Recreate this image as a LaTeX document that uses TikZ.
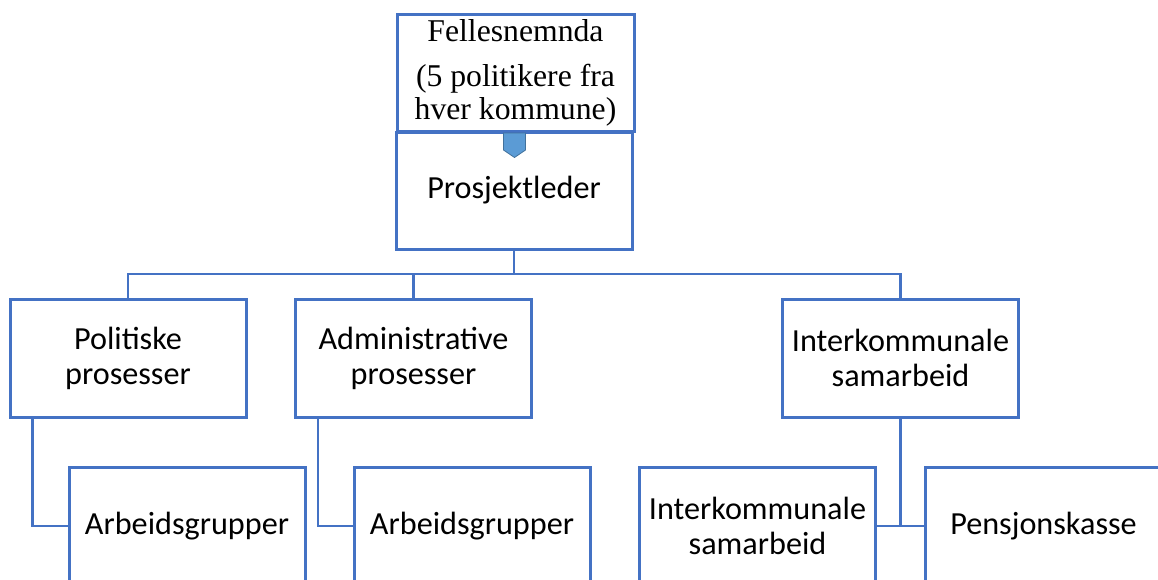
\documentclass[tikz,border=0pt]{standalone}
\usepackage{fontspec}
\setmainfont{Carlito}
\newfontfamily\serifface{Liberation Serif}
\definecolor{boxblue}{HTML}{4472C4}
\definecolor{markfill}{HTML}{5B9BD5}
\definecolor{markedge}{HTML}{41719C}
\begin{document}
\begin{tikzpicture}[x=1pt, y=-1pt,
  unit/.style={draw=boxblue, line width=3pt, fill=white, rectangle,
    minimum width=236pt, minimum height=117pt, inner sep=0pt,
    align=center, font=\fontsize{32.2}{35}\selectfont},
  link/.style={draw=boxblue, line width=2.6pt}]
\clip (0,0) rectangle (1158,579);
\fill[white] (0,0) rectangle (1158,579);

% boxes of the organisation chart
\node[unit, minimum width=237pt, font=\serifface\fontsize{31.7}{33}\selectfont]
  (fell) at (515.5,72.5) {Fellesnemnda\\[12pt](5 politikere fra\\hver kommune)};
\node[unit] (proj) at (514,190.5) {Prosjektleder};
\node[unit, minimum height=118pt] (pol) at (128,358) {Politiske\\prosesser};
\node[unit, minimum height=118pt] (adm) at (413.5,358) {Administrative\\prosesser};
\node[unit, minimum height=118pt] (ik1) at (900.5,358) {Interkommunale\\samarbeid};
\node[unit, minimum height=118pt] (ag1) at (187,526) {Arbeidsgrupper};
\node[unit, minimum height=118pt] (ag2) at (472,526) {Arbeidsgrupper};
\node[unit, minimum height=118pt] (ik2) at (757.5,526) {Interkommunale\\samarbeid};
\node[unit, minimum height=118pt] (pk) at (1043.5,526) {Pensjonskasse};

% tree lines
\coordinate (bus) at (514,274);
\draw[link] (proj.south) -- (bus);
\draw[link] (pol.north) |- (bus);
\draw[link] (adm.north) |- (bus);
\draw[link] (ik1.north) |- (bus);
\draw[link] ([xshift=24pt]pol.south west) |- (ag1.west);
\draw[link] ([xshift=24pt]adm.south west) |- (ag2.west);
\coordinate (join) at (ik1.south |- ik2.east);
\draw[link] (ik1.south) -- (join);
\draw[link] (ik2.east) -- (pk.west);

% small pentagon marker under Fellesnemnda
\filldraw[fill=markfill, draw=markedge, line width=0.8pt]
  (503.5,133) -- (525.5,133) -- (525.5,150) -- (514.5,157.5) -- (503.5,150) -- cycle;
\end{tikzpicture}
\end{document}
